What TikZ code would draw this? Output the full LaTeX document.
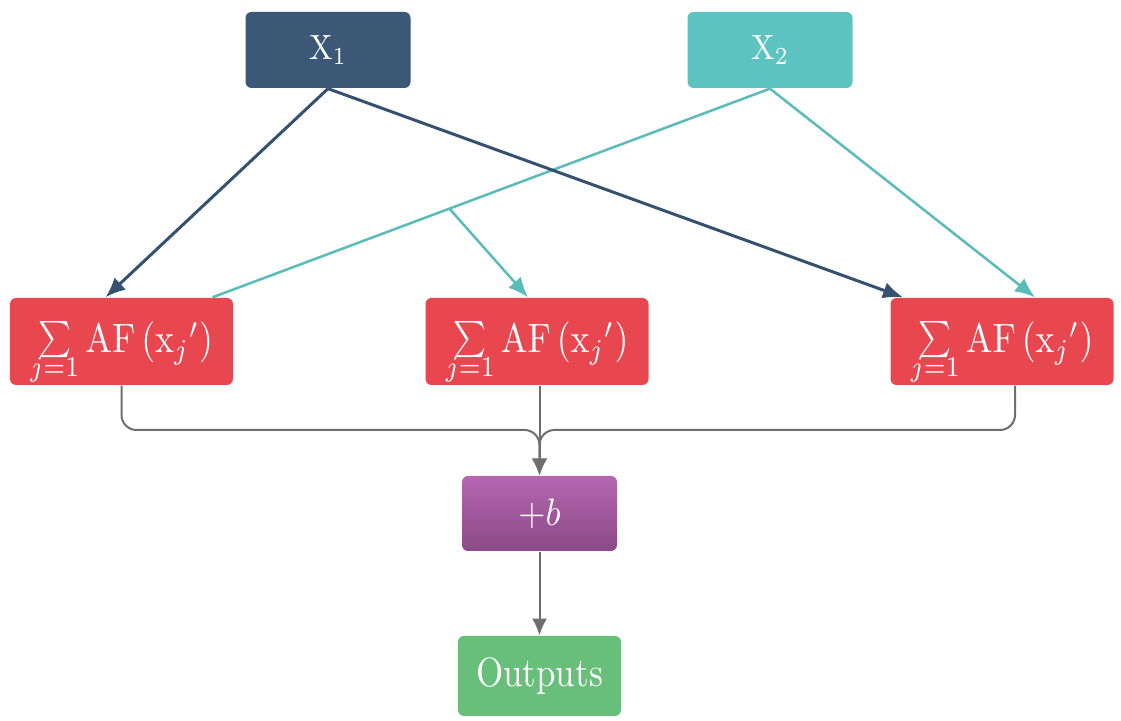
\documentclass[tikz,border=0pt]{standalone}
\usepackage{amsmath}
\usepackage{graphicx}
\usetikzlibrary{arrows.meta,calc}
\definecolor{xone}{HTML}{3B5876}
\definecolor{xonel}{HTML}{34526F}
\definecolor{xtwo}{HTML}{5CC3C1}
\definecolor{xtwol}{HTML}{5ABCB9}
\definecolor{redbox}{HTML}{E9474F}
\definecolor{purA}{HTML}{B566B0}
\definecolor{purB}{HTML}{8A4A87}
\definecolor{greenbox}{HTML}{68BF7A}
\definecolor{grayline}{HTML}{6E6E6E}
\newcommand{\sigj}{\ooalign{\hfil\raisebox{1pt}{\scalebox{0.88}{$\textstyle\sum$}}\hfil\cr\hfil\raisebox{-5.8pt}{$\scriptstyle j=1$}\hfil\cr}}
\newcommand{\afsum}{\scalebox{1.07}[1.23]{\sigj\,$\mathrm{AF}\,({\mathrm{x}_j}')$}}
\begin{document}
\begin{tikzpicture}[x=0.3pt,y=-0.3pt,
  box/.style={rounded corners=1.8pt, inner sep=0pt, text=white, font=\normalsize},
  inbox/.style={box, minimum width=49.5pt, minimum height=22.8pt},
  afbox/.style={box, fill=redbox, minimum width=66.9pt, text height=16.5pt, text depth=9.6pt},
  darr/.style={draw=xonel, line width=0.9pt, -{Latex[length=6pt,width=5pt]}},
  tarr/.style={draw=xtwol, line width=0.75pt, -{Latex[length=6pt,width=5pt]}},
  tline/.style={draw=xtwol, line width=0.75pt},
  garr/.style={draw=grayline, line width=0.6pt, rounded corners=4.5pt, -{Latex[length=5pt,width=4.5pt]}}
]
\path[use as bounding box] (0,0) rectangle (1121,721);

\node[inbox, fill=xone] (X1) at (328,50) {\scalebox{0.95}[1.05]{$\mathrm{X}_1$}};
\node[inbox, fill=xtwo] (X2) at (770,50) {\scalebox{0.95}[1.05]{$\mathrm{X}_2$}};

\node[afbox] (L) at (121.5,341.5) {\afsum};
\node[afbox] (M) at (537,341.5) {\afsum};
\node[afbox] (R) at (1002,341.5) {\afsum};

\node[box, top color=purA, bottom color=purB, minimum width=46.5pt, minimum height=22.5pt] (P) at (539.5,513.5) {\scalebox{1.05}[1.15]{$+b$}};
\node[box, fill=greenbox, minimum width=48.9pt, minimum height=24pt] (O) at (539.5,676) {\scalebox{1.05}[1.23]{Outputs}};

% X2 lines (drawn first, under X1 lines)
\draw[tline] (X2.south) -- ([xshift=27.3pt]L.north) coordinate (LX2);
\coordinate (BR) at ($(X2.south)!0.575!(LX2)$);
\draw[tarr] (BR) -- ([xshift=-2.7pt]M.north);
\draw[tarr] (X2.south) -- ([xshift=9.9pt]R.north);

% X1 lines
\draw[darr] (X1.south) -- ([xshift=-4.8pt]L.north);
\draw[darr] (X1.south) -- ([xshift=-29.7pt]R.north);

% merge lines
\draw[garr] (L.south) |- (P.north |- 0,430) -- (P.north);
\draw[garr] ([xshift=3.9pt]R.south) |- (P.north |- 0,430) -- (P.north);
\draw[garr] (P.north |- M.south) -- (P.north);

\draw[garr] (P.south) -- (O.north);
\end{tikzpicture}
\end{document}
